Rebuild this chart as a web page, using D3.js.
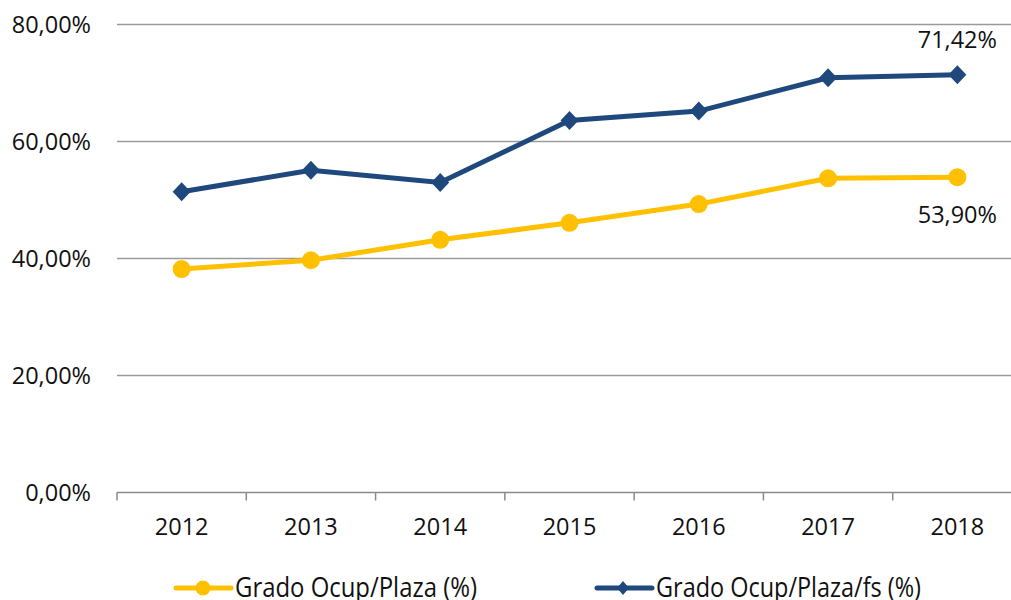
<!DOCTYPE html>
<html>
<head>
<meta charset="utf-8">
<script src="https://cdn.jsdelivr.net/npm/d3@7"></script>
<style>
  body { margin: 0; background: #fff; }
  svg { display: block; font-family: "Open Sans", "Noto Sans", sans-serif; }
</style>
</head>
<body>
<div id="chart"></div>
<script>
var years = ["2012", "2013", "2014", "2015", "2016", "2017", "2018"];
var ocupPlaza = [38.2, 39.7, 43.2, 46.1, 49.3, 53.7, 53.9];
var ocupPlazaFs = [51.4, 55.1, 53.0, 63.6, 65.2, 70.9, 71.42];
var yTicks = [0, 20, 40, 60, 80];
var seriesNames = ["Grado Ocup/Plaza (%)", "Grado Ocup/Plaza/fs (%)"];

var width = 1011, height = 600;
var yellow = "#FFC000", blue = "#1F497D";

var svg = d3.select("#chart").append("svg")
    .attr("width", width)
    .attr("height", height);

var x = d3.scaleBand().domain(years).range([117, 1022]);
var y = d3.scaleLinear().domain([0, 80]).range([492.5, 24.5]);

function fmt(v) {
    return v.toFixed(2).replace(".", ",") + "%";
}

// diamond marker, a bit wider than d3's own
function diamondPath(hw, hh) {
    return "M0," + (-hh) + "L" + hw + ",0L0," + hh + "L" + (-hw) + ",0Z";
}

// grid lines
svg.append("g")
    .selectAll("line")
    .data(yTicks.filter(function(d) { return d > 0; }))
    .enter().append("line")
    .attr("x1", 117).attr("x2", 1022)
    .attr("y1", function(d) { return y(d); })
    .attr("y2", function(d) { return y(d); })
    .style("stroke", "#9a9a9a")
    .style("stroke-width", 1.5);

// y labels
svg.append("g")
    .selectAll("text")
    .data(yTicks)
    .enter().append("text")
    .attr("x", 91)
    .attr("y", function(d) { return y(d) + 8.5; })
    .attr("text-anchor", "end")
    .style("font-size", "23.5px")
    .style("fill", "#111")
    .text(fmt);

// x axis
var xAxis = svg.append("g").attr("transform", "translate(0," + y(0) + ")");
xAxis.append("line")
    .attr("x1", 117).attr("x2", 1022)
    .style("stroke", "#8a8a8a").style("stroke-width", 1.5);
xAxis.selectAll("line.tick")
    .data(years)
    .enter().append("line")
    .attr("class", "tick")
    .attr("x1", function(d) { return x(d); })
    .attr("x2", function(d) { return x(d); })
    .attr("y1", 0).attr("y2", 8)
    .style("stroke", "#8a8a8a").style("stroke-width", 1.5);
xAxis.selectAll("text")
    .data(years)
    .enter().append("text")
    .attr("x", function(d) { return x(d) + x.bandwidth() / 2; })
    .attr("y", 42.5)
    .attr("text-anchor", "middle")
    .style("font-size", "23.5px")
    .style("fill", "#111")
    .text(function(d) { return d; });

var cx = function(d, i) { return x(years[i]) + x.bandwidth() / 2; };

var line = d3.line()
    .x(function(d, i) { return cx(d, i); })
    .y(function(d) { return y(d); });

// yellow series
svg.append("path")
    .datum(ocupPlaza)
    .attr("d", line)
    .style("fill", "none")
    .style("stroke", yellow)
    .style("stroke-width", 5);
svg.append("g").selectAll("circle")
    .data(ocupPlaza)
    .enter().append("circle")
    .attr("cx", cx)
    .attr("cy", function(d) { return y(d); })
    .attr("r", 9)
    .style("fill", yellow);

// blue series
svg.append("path")
    .datum(ocupPlazaFs)
    .attr("d", line)
    .style("fill", "none")
    .style("stroke", blue)
    .style("stroke-width", 5);
svg.append("g").selectAll("path")
    .data(ocupPlazaFs)
    .enter().append("path")
    .attr("d", diamondPath(9, 9.5))
    .attr("transform", function(d, i) { return "translate(" + cx(d, i) + "," + y(d) + ")"; })
    .style("fill", blue);

// data labels for last points
var last = years.length - 1;
svg.append("text")
    .attr("x", cx(null, last))
    .attr("y", y(ocupPlazaFs[last]) - 27)
    .attr("text-anchor", "middle")
    .style("font-size", "23.5px").style("fill", "#111")
    .text(fmt(ocupPlazaFs[last]));
svg.append("text")
    .attr("x", cx(null, last))
    .attr("y", y(ocupPlaza[last]) + 46)
    .attr("text-anchor", "middle")
    .style("font-size", "23.5px").style("fill", "#111")
    .text(fmt(ocupPlaza[last]));

// legend
var legend = [
    { name: seriesNames[0], color: yellow, x: 176, w: 242, shape: "circle" },
    { name: seriesNames[1], color: blue, x: 597, w: 265, shape: "diamond" }
];
var lg = svg.append("g").selectAll("g")
    .data(legend)
    .enter().append("g")
    .attr("transform", function(d) { return "translate(" + d.x + ",588)"; });
lg.append("line")
    .attr("x1", 0).attr("x2", 55)
    .style("stroke", function(d) { return d.color; })
    .style("stroke-width", 5)
    .style("stroke-linecap", "round");
lg.each(function(d) {
    var g = d3.select(this);
    if (d.shape === "circle") {
        g.append("circle").attr("cx", 27).attr("r", 7.5).style("fill", d.color);
    } else {
        g.append("path").attr("d", diamondPath(6, 7))
            .attr("transform", "translate(26,0)").style("fill", d.color);
    }
});
lg.append("text")
    .attr("x", 59)
    .attr("y", 9)
    .attr("textLength", function(d) { return d.w; })
    .attr("lengthAdjust", "spacingAndGlyphs")
    .style("font-size", "27px").style("fill", "#111")
    .text(function(d) { return d.name; });
</script>
</body>
</html>
